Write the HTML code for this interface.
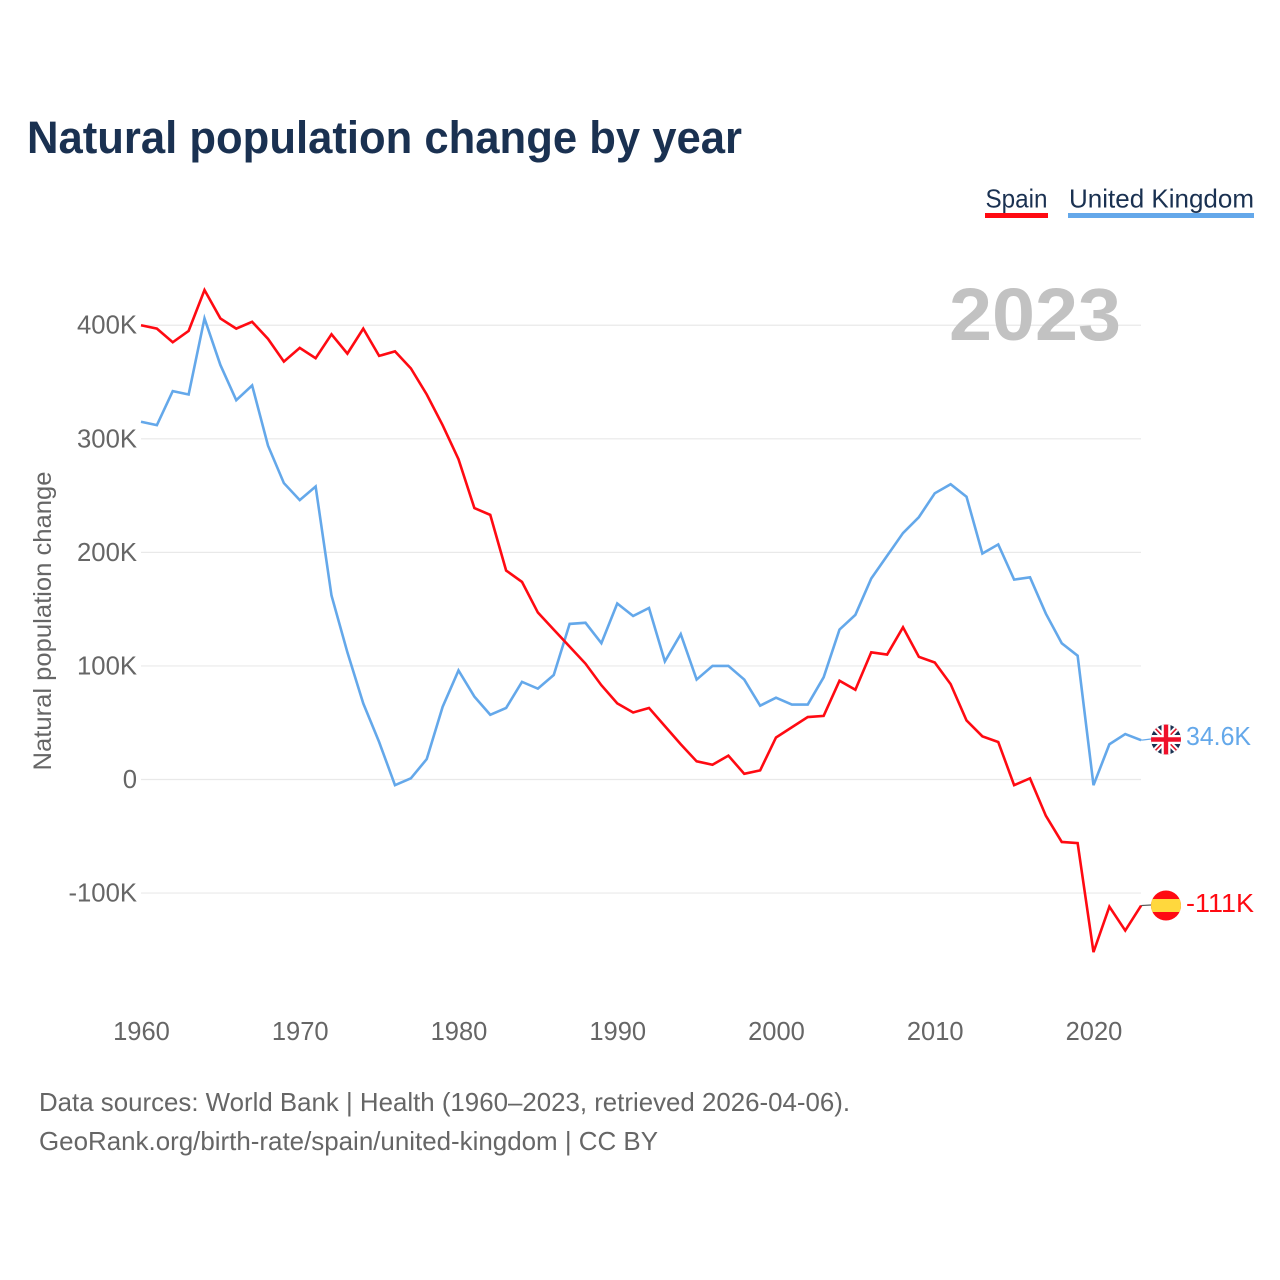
<!DOCTYPE html>
<html lang="en">
<head>
<meta charset="utf-8">
<title>Natural population change by year</title>
<style>
html,body{margin:0;padding:0;background:#fff}
svg{display:block}
text{font-family:"Liberation Sans",sans-serif}
</style>
</head>
<body>
<svg id="chart" width="1280" height="1280" viewBox="0 0 1280 1280" xmlns="http://www.w3.org/2000/svg">
  <rect x="0" y="0" width="1280" height="1280" fill="#fff"/>
  <text x="27" y="153" font-size="45" font-weight="700" fill="#1a3151" textLength="715" lengthAdjust="spacingAndGlyphs">Natural population change by year</text>

  <g>
    <text x="985.5" y="207.5" font-size="26" fill="#1a3151" textLength="62" lengthAdjust="spacingAndGlyphs">Spain</text>
    <rect x="985" y="213" width="63" height="5" fill="#ff0a12"/>
  </g>
  <g>
    <text x="1069" y="207.5" font-size="26" fill="#1a3151" textLength="185" lengthAdjust="spacingAndGlyphs">United Kingdom</text>
    <rect x="1068" y="213" width="186" height="5" fill="#64a8ea"/>
  </g>

  <g id="grid"></g>
  <text x="1121" y="340" text-anchor="end" font-size="74" font-weight="700" fill="#c2c2c2" textLength="172" lengthAdjust="spacingAndGlyphs">2023</text>
  <g id="yticks"></g>
  <g id="xticks"></g>
  <text transform="translate(51 621) rotate(-90)" text-anchor="middle" font-size="25" fill="#666" textLength="299" lengthAdjust="spacingAndGlyphs">Natural population change</text>

  <path id="line-uk" fill="none" stroke="#64a8ea" stroke-width="2.6" stroke-linejoin="miter"/>
  <path id="line-spain" fill="none" stroke="#ff0a12" stroke-width="2.6" stroke-linejoin="miter"/>
  <line id="conn-uk" stroke="#64a8ea" stroke-width="1.2"/>
  <line id="conn-spain" stroke="#555" stroke-width="1.2"/>

  <defs>
    <clipPath id="clip-uk"><circle cx="1166" cy="739.5" r="15"/></clipPath>
    <clipPath id="clip-es"><circle cx="1166" cy="905.5" r="15"/></clipPath>
  </defs>
  <g clip-path="url(#clip-uk)">
    <rect x="1151" y="724" width="30" height="31" fill="#1a3151"/>
    <path d="M1151 724L1181 755M1181 724L1151 755" stroke="#fff" stroke-width="5.5"/>
    <path d="M1151 724L1181 755M1181 724L1151 755" stroke="#e0162b" stroke-width="1.6"/>
    <path d="M1166 724V755M1151 739.5H1181" stroke="#fff" stroke-width="9"/>
    <path d="M1166 724V755M1151 739.5H1181" stroke="#f0102a" stroke-width="4.4"/>
  </g>
  <g clip-path="url(#clip-es)">
    <rect x="1151" y="890" width="30" height="31" fill="#ff0a12"/>
    <rect x="1151" y="899" width="30" height="13" fill="#ffd83d"/>
  </g>
  <text x="1186" y="745" font-size="26" fill="#64a8ea" textLength="65" lengthAdjust="spacingAndGlyphs">34.6K</text>
  <text x="1186" y="912" font-size="26" fill="#ff0a12" textLength="68" lengthAdjust="spacingAndGlyphs">-111K</text>

  <text x="39" y="1111" font-size="26" fill="#666" textLength="811" lengthAdjust="spacingAndGlyphs">Data sources: World Bank | Health (1960–2023, retrieved 2026-04-06).</text>
  <text x="39" y="1150" font-size="26" fill="#666" textLength="619" lengthAdjust="spacingAndGlyphs">GeoRank.org/birth-rate/spain/united-kingdom | CC BY</text>
</svg>
<script>
const firstYear = 1960;
const spainValues = [400,397,385,395,431,406,397,403,388,368,380,371,392,375,397,373,377,362,339,312,282,239,233,184,174,147,132,117,102,83,67,59,63,47,31,16,13,21,5,8,37,46,55,56,87,79,112,110,134,108,103,84,52,38,33,-5,1,-32,-55,-56,-152,-112,-133,-111];
const ukValues = [315,312,342,339,406,365,334,347,294,261,246,258,162,112,67,33,-5,1,18,64,96,73,57,63,86,80,92,137,138,120,155,144,151,104,128,88,100,100,88,65,72,66,66,90,132,145,177,197,217,231,252,260,249,199,207,176,178,146,120,109,-5,31,40,34.6];
const yTickValues = [400,300,200,100,0,-100];
const yTickLabels = ['400K','300K','200K','100K','0','-100K'];
const xTickValues = [1960,1970,1980,1990,2000,2010,2020];

const NS = 'http://www.w3.org/2000/svg';
function xScale(year){ return 141 + (year - firstYear) * 15.875; }
function yScale(v){ return 779.5 - v * 1.1357; }
function linePath(values){
  return values.map(function(v,i){
    return (i ? 'L' : 'M') + xScale(firstYear + i).toFixed(2) + ' ' + yScale(v).toFixed(2);
  }).join('');
}

const grid = document.getElementById('grid');
const yticks = document.getElementById('yticks');
yTickValues.forEach(function(v,i){
  const ln = document.createElementNS(NS,'line');
  ln.setAttribute('x1', 141);
  ln.setAttribute('x2', 1141);
  ln.setAttribute('y1', yScale(v));
  ln.setAttribute('y2', yScale(v));
  ln.setAttribute('stroke', '#e9e9e9');
  ln.setAttribute('stroke-width', '1.2');
  
  
  grid.appendChild(ln);
  const t = document.createElementNS(NS,'text');
  t.setAttribute('x', 137);
  t.setAttribute('y', yScale(v) + 8.5);
  t.setAttribute('text-anchor', 'end');
  t.setAttribute('font-size', '25.7');
  t.setAttribute('fill', '#666');
  t.textContent = yTickLabels[i];
  
  
  yticks.appendChild(t);
});

const xticks = document.getElementById('xticks');
xTickValues.forEach(function(y){
  const t = document.createElementNS(NS,'text');
  t.setAttribute('x', xScale(y) + 0.5);
  t.setAttribute('y', 1040);
  t.setAttribute('text-anchor', 'middle');
  t.setAttribute('font-size', '25.5');
  t.setAttribute('fill', '#666');
  t.textContent = String(y);
  
  
  xticks.appendChild(t);
});

document.getElementById('line-spain').setAttribute('d', linePath(spainValues));
document.getElementById('line-uk').setAttribute('d', linePath(ukValues));

function connector(id, values, flagY){
  const c = document.getElementById(id);
  const last = values[values.length - 1];
  c.setAttribute('x1', xScale(firstYear + values.length - 1));
  c.setAttribute('y1', yScale(last));
  c.setAttribute('x2', 1151);
  c.setAttribute('y2', flagY);
}
connector('conn-spain', spainValues, 905);
connector('conn-uk', ukValues, 739);
</script>
</body>
</html>
